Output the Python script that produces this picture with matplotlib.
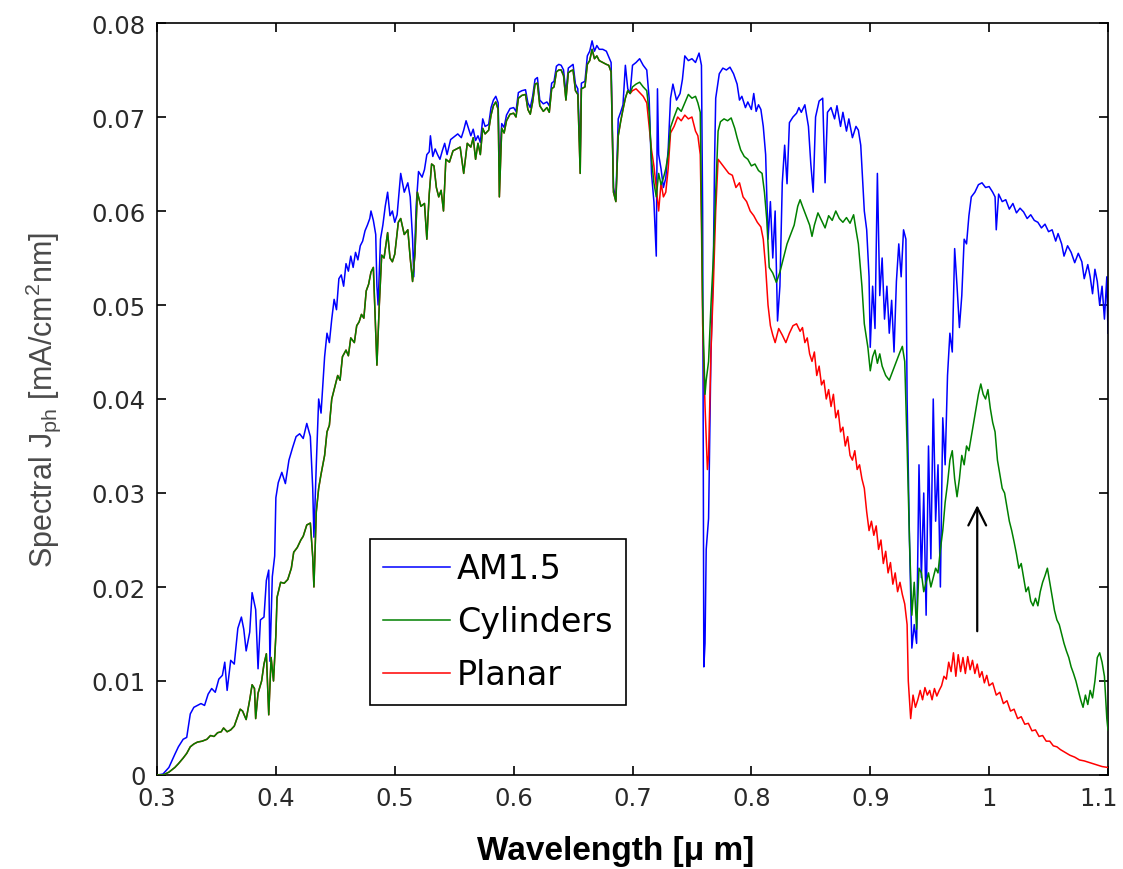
import matplotlib
matplotlib.use('Agg')
import matplotlib.pyplot as plt
import matplotlib.transforms as mtransforms
import numpy as np

# wavelength [um] and spectral Jph [1e-3 mA/cm^2 nm]

# AM1.5
am_wl = [0.300, 0.305, 0.310, 0.315, 0.318, 0.322, 0.325, 0.328, 0.331, 0.334, 0.337, 0.340,
         0.343, 0.346, 0.349, 0.352, 0.355, 0.357, 0.359, 0.362, 0.365, 0.368, 0.371, 0.373,
         0.375, 0.378, 0.380, 0.383, 0.385, 0.387, 0.390, 0.392, 0.394, 0.395, 0.397, 0.399,
         0.400, 0.402, 0.405, 0.408, 0.411, 0.414, 0.417, 0.420, 0.423, 0.426, 0.429, 0.431,
         0.432, 0.434, 0.436, 0.438, 0.441, 0.443, 0.445, 0.447, 0.449, 0.451, 0.453, 0.455,
         0.457, 0.459, 0.461, 0.463, 0.465, 0.467, 0.469, 0.471, 0.473, 0.475, 0.477, 0.479,
         0.480, 0.482, 0.484, 0.485, 0.486, 0.488, 0.490, 0.492, 0.494, 0.496, 0.498, 0.500,
         0.502, 0.505, 0.508, 0.511, 0.513, 0.515, 0.516, 0.518, 0.520, 0.523, 0.525, 0.527,
         0.529, 0.530, 0.532, 0.534, 0.536, 0.538, 0.540, 0.542, 0.544, 0.547, 0.550, 0.553,
         0.556, 0.558, 0.560, 0.562, 0.564, 0.566, 0.568, 0.570, 0.572, 0.574, 0.576, 0.579,
         0.581, 0.583, 0.585, 0.587, 0.588, 0.590, 0.592, 0.594, 0.597, 0.600, 0.602, 0.604,
         0.607, 0.610, 0.612, 0.614, 0.616, 0.618, 0.620, 0.622, 0.625, 0.628, 0.630, 0.632,
         0.634, 0.636, 0.638, 0.640, 0.642, 0.644, 0.646, 0.648, 0.650, 0.652, 0.654, 0.656,
         0.657, 0.660, 0.662, 0.664, 0.666, 0.668, 0.670, 0.672, 0.675, 0.678, 0.680, 0.682,
         0.684, 0.686, 0.688, 0.690, 0.692, 0.694, 0.696, 0.698, 0.700, 0.703, 0.706, 0.709,
         0.712, 0.714, 0.716, 0.718, 0.720, 0.721, 0.722, 0.724, 0.726, 0.728, 0.730, 0.732,
         0.734, 0.737, 0.740, 0.742, 0.744, 0.747, 0.750, 0.753, 0.756, 0.758, 0.759, 0.760,
         0.761, 0.762, 0.764, 0.766, 0.768, 0.769, 0.770, 0.773, 0.776, 0.779, 0.782, 0.785,
         0.788, 0.790, 0.792, 0.795, 0.797, 0.800, 0.802, 0.804, 0.806, 0.808, 0.810, 0.812,
         0.814, 0.816, 0.818, 0.820, 0.822, 0.824, 0.826, 0.828, 0.830, 0.832, 0.835, 0.838,
         0.840, 0.842, 0.845, 0.848, 0.850, 0.852, 0.854, 0.857, 0.860, 0.862, 0.864, 0.867,
         0.870, 0.872, 0.875, 0.877, 0.880, 0.882, 0.885, 0.888, 0.890, 0.892, 0.895, 0.897,
         0.899, 0.900, 0.902, 0.904, 0.906, 0.908, 0.910, 0.912, 0.914, 0.916, 0.918, 0.920,
         0.922, 0.924, 0.926, 0.928, 0.930, 0.931, 0.933, 0.935, 0.937, 0.939, 0.941, 0.943,
         0.945, 0.947, 0.949, 0.951, 0.953, 0.955, 0.957, 0.959, 0.961, 0.963, 0.965, 0.967,
         0.969, 0.971, 0.973, 0.975, 0.977, 0.979, 0.981, 0.983, 0.985, 0.988, 0.991, 0.994,
         0.997, 1.000, 1.003, 1.005, 1.006, 1.008, 1.011, 1.014, 1.017, 1.020, 1.023, 1.026,
         1.029, 1.032, 1.035, 1.038, 1.041, 1.044, 1.047, 1.050, 1.053, 1.056, 1.058, 1.061,
         1.063, 1.066, 1.069, 1.072, 1.075, 1.078, 1.080, 1.083, 1.085, 1.087, 1.089, 1.091,
         1.093, 1.095, 1.097, 1.099, 1.100]
am_j = [0, 0.1, 0.8, 2.2, 3.0, 3.8, 4.0, 6.5, 7.2, 7.4, 7.6, 7.4,
        8.6, 9.2, 8.8, 10.2, 10.6, 12.0, 9.0, 12.2, 11.8, 15.6, 16.8, 15.5,
        13.2, 15.2, 19.4, 17.6, 11.3, 16.5, 16.8, 20.7, 21.8, 12.1, 21.1, 23.3,
        29.5, 31.1, 32.2, 31.0, 33.5, 34.8, 36.0, 36.3, 35.8, 37.4, 36.0, 30.5,
        25.3, 33.0, 40.0, 38.5, 44.5, 47.0, 46.0, 48.5, 50.6, 49.5, 52.8, 53.2,
        52.0, 54.4, 53.6, 55.2, 54.0, 55.6, 54.8, 56.3, 56.8, 57.9, 58.5, 59.2,
        60.0, 59.0, 57.5, 52.0, 50.0, 57.0, 58.5, 60.5, 62.0, 59.5, 60.0, 58.8,
        59.6, 64.0, 62.0, 63.0, 61.5, 57.0, 53.0, 60.5, 64.2, 63.6, 64.4, 66.0,
        66.3, 68.0, 65.8, 66.6, 66.0, 65.5, 66.4, 67.2, 66.0, 67.6, 67.9, 68.2,
        67.8, 68.6, 69.6, 68.8, 68.0, 68.7, 67.5, 68.0, 67.3, 69.8, 69.0, 69.2,
        71.0, 71.8, 72.2, 71.5, 64.7, 69.3, 68.9, 70.2, 70.9, 71.0, 70.6, 72.6,
        72.8, 72.9, 71.5, 71.0, 72.2, 74.0, 74.2, 71.8, 71.4, 71.6, 71.2, 73.6,
        73.8, 75.4, 75.6, 75.5, 75.0, 72.5, 75.2, 75.4, 75.6, 73.5, 73.0, 66.0,
        73.6, 73.8, 76.5, 77.0, 78.1, 77.0, 77.6, 77.2, 77.2, 77.0, 76.4, 75.8,
        62.5, 61.2, 69.8, 70.5, 71.3, 75.5, 73.0, 72.5, 75.5, 75.8, 76.2, 75.5,
        75.0, 72.0, 64.0, 61.0, 55.2, 73.0, 66.0, 64.5, 62.5, 63.5, 66.5, 72.0,
        73.5, 71.8, 72.5, 74.0, 76.5, 76.0, 76.2, 75.8, 76.8, 75.5, 60.0, 11.5,
        14.0, 24.0, 27.3, 45.0, 54.0, 65.0, 72.0, 74.6, 75.2, 75.0, 75.3, 74.6,
        73.5, 71.8, 72.2, 71.0, 71.6, 70.8, 72.5, 70.6, 71.3, 70.8, 69.0, 66.0,
        57.0, 61.0, 55.0, 60.0, 48.3, 52.0, 63.0, 67.0, 62.9, 69.4, 70.0, 70.4,
        71.0, 70.5, 71.3, 69.0, 65.0, 62.0, 70.0, 71.7, 72.0, 63.0, 70.5, 71.0,
        69.8, 71.2, 69.0, 70.5, 68.5, 69.8, 67.8, 69.0, 68.6, 67.0, 60.0, 58.0,
        53.0, 45.5, 52.0, 47.5, 64.0, 51.0, 55.0, 48.5, 52.0, 47.0, 50.5, 45.0,
        52.5, 56.5, 53.0, 58.0, 57.0, 40.0, 25.0, 13.5, 16.0, 14.0, 33.0, 21.0,
        30.0, 17.0, 35.0, 23.0, 40.0, 27.0, 33.0, 20.0, 38.0, 33.0, 42.5, 47.0,
        45.0, 56.0, 52.0, 47.6, 51.0, 57.0, 56.5, 59.5, 61.5, 62.0, 62.8, 63.0,
        62.5, 62.6, 62.0, 61.5, 58.0, 61.8, 61.0, 61.2, 60.2, 60.8, 59.8, 60.3,
        59.9, 59.2, 59.6, 59.0, 58.8, 58.2, 58.6, 57.8, 58.0, 56.8, 57.6, 56.5,
        55.2, 56.3, 55.6, 54.5, 55.5, 54.6, 52.8, 54.3, 53.0, 51.2, 53.8, 52.5,
        50.0, 52.0, 48.5, 53.0, 47.0]

# Cylinders
cyl_wl = [0.300, 0.305, 0.310, 0.315, 0.318, 0.322, 0.325, 0.328, 0.331, 0.334, 0.338, 0.342,
          0.345, 0.348, 0.351, 0.354, 0.356, 0.359, 0.362, 0.365, 0.368, 0.370, 0.372, 0.375,
          0.378, 0.380, 0.382, 0.383, 0.385, 0.388, 0.390, 0.392, 0.394, 0.396, 0.398, 0.400,
          0.401, 0.404, 0.407, 0.410, 0.413, 0.415, 0.418, 0.421, 0.423, 0.426, 0.429, 0.431,
          0.432, 0.434, 0.436, 0.438, 0.441, 0.443, 0.445, 0.447, 0.450, 0.452, 0.454, 0.456,
          0.459, 0.461, 0.463, 0.466, 0.468, 0.470, 0.472, 0.474, 0.476, 0.478, 0.480, 0.482,
          0.484, 0.485, 0.487, 0.489, 0.491, 0.494, 0.496, 0.498, 0.500, 0.503, 0.505, 0.508,
          0.511, 0.513, 0.515, 0.517, 0.519, 0.522, 0.525, 0.527, 0.529, 0.531, 0.533, 0.535,
          0.537, 0.539, 0.541, 0.543, 0.546, 0.549, 0.552, 0.555, 0.558, 0.561, 0.564, 0.566,
          0.568, 0.570, 0.572, 0.574, 0.576, 0.579, 0.581, 0.583, 0.585, 0.587, 0.588, 0.590,
          0.592, 0.594, 0.597, 0.600, 0.602, 0.604, 0.607, 0.610, 0.612, 0.614, 0.616, 0.618,
          0.620, 0.622, 0.625, 0.628, 0.630, 0.632, 0.634, 0.636, 0.638, 0.640, 0.642, 0.644,
          0.646, 0.648, 0.650, 0.652, 0.654, 0.656, 0.657, 0.660, 0.662, 0.664, 0.666, 0.668,
          0.670, 0.672, 0.675, 0.678, 0.680, 0.682, 0.684, 0.686, 0.688, 0.690, 0.692, 0.694,
          0.696, 0.698, 0.700, 0.703, 0.706, 0.709, 0.712, 0.714, 0.716, 0.718, 0.720, 0.722,
          0.724, 0.726, 0.728, 0.730, 0.732, 0.735, 0.738, 0.741, 0.744, 0.747, 0.750, 0.753,
          0.755, 0.757, 0.758, 0.759, 0.760, 0.761, 0.762, 0.764, 0.766, 0.768, 0.770, 0.772,
          0.774, 0.777, 0.780, 0.783, 0.786, 0.788, 0.791, 0.794, 0.797, 0.800, 0.803, 0.806,
          0.809, 0.811, 0.813, 0.815, 0.818, 0.821, 0.824, 0.827, 0.830, 0.833, 0.836, 0.839,
          0.841, 0.843, 0.846, 0.849, 0.851, 0.853, 0.856, 0.859, 0.862, 0.865, 0.868, 0.871,
          0.874, 0.877, 0.880, 0.883, 0.886, 0.888, 0.890, 0.893, 0.895, 0.898, 0.900, 0.902,
          0.904, 0.906, 0.908, 0.910, 0.913, 0.916, 0.919, 0.922, 0.925, 0.927, 0.929, 0.931,
          0.933, 0.935, 0.937, 0.939, 0.941, 0.943, 0.945, 0.947, 0.949, 0.951, 0.953, 0.955,
          0.957, 0.959, 0.961, 0.963, 0.965, 0.967, 0.969, 0.971, 0.973, 0.975, 0.977, 0.979,
          0.981, 0.983, 0.985, 0.987, 0.989, 0.991, 0.993, 0.995, 0.997, 0.999, 1.001, 1.003,
          1.005, 1.007, 1.009, 1.011, 1.013, 1.015, 1.017, 1.019, 1.021, 1.023, 1.025, 1.027,
          1.029, 1.031, 1.033, 1.035, 1.037, 1.039, 1.041, 1.043, 1.045, 1.047, 1.049, 1.051,
          1.053, 1.055, 1.057, 1.059, 1.061, 1.063, 1.065, 1.067, 1.069, 1.071, 1.073, 1.075,
          1.077, 1.079, 1.081, 1.083, 1.085, 1.087, 1.089, 1.091, 1.093, 1.095, 1.097, 1.099,
          1.100]
cyl_j = [0, 0, 0.3, 0.8, 1.2, 1.8, 2.3, 3.0, 3.3, 3.5, 3.6, 3.8,
         4.2, 4.1, 4.5, 4.6, 5.0, 4.6, 4.8, 5.2, 6.3, 7.0, 6.8, 5.9,
         8.0, 9.6, 9.2, 6.0, 8.7, 10.0, 11.8, 12.9, 6.4, 12.5, 10.0, 14.9,
         18.9, 20.5, 20.4, 20.8, 22.0, 23.7, 24.2, 25.0, 25.4, 26.6, 26.8, 23.2,
         20.0, 28.0, 30.5, 32.0, 34.0, 36.5, 37.2, 40.0, 41.5, 42.5, 42.0, 44.5,
         45.2, 44.6, 46.5, 46.0, 47.8, 48.2, 49.0, 48.6, 51.5, 52.2, 53.5, 54.0,
         47.0, 43.6, 50.0, 55.3, 55.0, 57.7, 55.0, 54.6, 55.4, 58.8, 59.2, 57.5,
         58.0, 55.0, 52.5, 55.5, 62.0, 60.5, 60.8, 57.0, 61.8, 65.0, 64.8, 62.5,
         61.5, 62.2, 60.0, 65.5, 65.2, 66.4, 66.6, 66.8, 64.0, 67.2, 66.8, 67.8,
         65.5, 67.2, 66.0, 68.8, 68.2, 68.6, 70.2, 71.2, 71.6, 70.8, 61.5, 68.8,
         68.3, 69.6, 70.3, 70.4, 70.0, 72.0, 72.3, 72.4, 70.8, 70.3, 71.6, 73.5,
         73.6, 71.2, 70.6, 71.0, 70.5, 73.0, 73.2, 74.8, 75.0, 75.0, 74.4, 71.8,
         74.7, 74.9, 75.0, 72.8, 72.4, 64.0, 73.0, 73.2, 75.6, 76.0, 77.2, 76.2,
         76.5, 76.0, 75.8, 75.6, 75.5, 74.8, 62.0, 61.0, 68.0, 69.5, 70.8, 72.0,
         72.8, 72.5, 73.2, 73.5, 73.7, 73.2, 72.8, 70.5, 65.5, 63.0, 61.5, 64.0,
         62.8, 63.5, 64.5, 66.0, 68.9, 70.0, 71.0, 70.6, 71.5, 72.4, 72.0, 72.2,
         71.5, 70.5, 60.0, 50.0, 45.0, 40.5, 42.0, 44.0, 50.0, 55.0, 62.0, 68.5,
         69.5, 69.8, 69.6, 69.9, 68.8, 67.8, 66.5, 65.8, 65.5, 64.8, 65.0, 64.3,
         64.0, 62.0, 59.0, 54.0, 53.4, 52.4, 53.5, 55.0, 56.5, 57.5, 58.5, 60.5,
         61.2, 60.5, 59.5, 58.5, 57.3, 58.5, 59.8, 59.0, 58.2, 59.5, 59.0, 60.0,
         59.2, 58.8, 59.3, 58.7, 59.6, 58.0, 56.5, 52.0, 48.0, 45.5, 43.0, 44.5,
         45.2, 43.8, 44.8, 43.5, 42.5, 42.0, 43.0, 44.0, 45.0, 45.6, 44.0, 35.0,
         25.0, 17.0, 20.5, 15.5, 22.0, 21.5, 19.5, 20.5, 21.5, 20.0, 21.0, 22.0,
         21.5, 24.0, 26.0, 29.0, 31.0, 33.5, 34.5, 31.5, 29.6, 31.5, 34.0, 33.0,
         35.0, 34.5, 36.0, 37.5, 39.0, 40.5, 41.6, 40.5, 40.0, 41.0, 39.0, 37.5,
         36.5, 33.5, 32.0, 30.5, 30.0, 28.5, 27.0, 26.0, 24.8, 23.5, 22.0, 22.5,
         21.0, 19.5, 20.0, 18.5, 18.0, 18.8, 18.0, 19.5, 20.5, 21.2, 22.0, 20.5,
         19.0, 17.5, 16.5, 16.0, 15.0, 14.0, 13.2, 12.5, 11.5, 10.8, 10.0, 9.0,
         8.0, 7.2, 8.5, 7.5, 9.0, 8.2, 10.0, 12.5, 13.0, 12.0, 10.5, 6.0,
         4.8]

# Planar: identical to Cylinders below 0.7 um, own values above
planar_tail_wl = [0.700, 0.703, 0.706, 0.709, 0.712, 0.714, 0.716, 0.718, 0.720, 0.722, 0.724, 0.726,
                  0.728, 0.730, 0.732, 0.735, 0.738, 0.741, 0.744, 0.747, 0.750, 0.753, 0.755, 0.757,
                  0.758, 0.759, 0.761, 0.763, 0.764, 0.766, 0.768, 0.770, 0.772, 0.775, 0.778, 0.781,
                  0.784, 0.787, 0.790, 0.793, 0.796, 0.799, 0.802, 0.805, 0.808, 0.810, 0.812, 0.814,
                  0.816, 0.818, 0.820, 0.823, 0.826, 0.829, 0.832, 0.835, 0.838, 0.841, 0.843, 0.845,
                  0.847, 0.849, 0.851, 0.853, 0.855, 0.857, 0.859, 0.861, 0.863, 0.865, 0.867, 0.869,
                  0.871, 0.873, 0.875, 0.877, 0.879, 0.881, 0.883, 0.885, 0.887, 0.889, 0.891, 0.893,
                  0.895, 0.897, 0.899, 0.901, 0.903, 0.905, 0.907, 0.909, 0.911, 0.913, 0.915, 0.917,
                  0.919, 0.921, 0.923, 0.925, 0.927, 0.929, 0.931, 0.932, 0.934, 0.936, 0.938, 0.940,
                  0.942, 0.944, 0.946, 0.948, 0.950, 0.952, 0.954, 0.956, 0.958, 0.960, 0.962, 0.964,
                  0.966, 0.968, 0.970, 0.972, 0.974, 0.976, 0.978, 0.980, 0.982, 0.984, 0.986, 0.988,
                  0.990, 0.992, 0.994, 0.996, 0.998, 1.000, 1.003, 1.006, 1.009, 1.012, 1.015, 1.018,
                  1.021, 1.024, 1.027, 1.030, 1.033, 1.036, 1.039, 1.042, 1.045, 1.048, 1.051, 1.054,
                  1.057, 1.060, 1.064, 1.068, 1.072, 1.076, 1.080, 1.085, 1.090, 1.095, 1.100]
planar_tail_j = [72.8, 73.0, 72.6, 72.2, 71.5, 69.0, 66.5, 64.8, 62.5, 60.0, 63.0, 61.5,
                 62.0, 64.5, 68.3, 69.0, 70.0, 69.6, 70.2, 69.8, 70.0, 68.5, 68.0, 66.0,
                 58.7, 48.0, 39.3, 32.5, 34.0, 45.0, 52.0, 60.0, 65.5, 65.0, 64.5, 64.0,
                 63.8, 62.5, 63.0, 61.5, 61.0, 60.0, 59.5, 58.8, 58.3, 57.0, 54.0, 50.0,
                 47.8, 46.8, 46.0, 47.5, 46.8, 46.0, 47.0, 47.8, 48.0, 47.2, 47.6, 46.0,
                 46.5, 44.8, 44.0, 45.0, 42.5, 43.5, 41.5, 42.0, 40.0, 41.0, 39.2, 40.5,
                 38.0, 38.8, 36.5, 37.0, 35.0, 36.0, 34.0, 33.5, 34.5, 32.5, 33.0, 31.5,
                 30.5, 28.0, 26.0, 27.0, 25.5, 26.5, 24.0, 25.0, 22.5, 23.8, 21.5, 22.6,
                 20.3, 21.5, 19.5, 20.5, 19.2, 18.2, 16.0, 10.0, 6.0, 8.5, 7.2, 8.0,
                 9.0, 8.0, 9.3, 8.5, 9.0, 8.0, 9.2, 8.4, 9.0, 9.5, 10.5, 10.2,
                 12.0, 11.0, 13.0, 10.5, 12.8, 11.0, 12.5, 10.8, 12.6, 11.2, 12.2, 10.8,
                 11.8, 10.4, 11.0, 9.8, 10.6, 9.5, 9.8, 8.5, 8.8, 7.6, 7.9, 6.8,
                 7.0, 6.0, 6.2, 5.4, 5.5, 4.7, 4.8, 4.1, 4.2, 3.6, 3.6, 3.1,
                 3.0, 2.7, 2.4, 2.1, 1.9, 1.6, 1.5, 1.3, 1.1, 0.9, 0.8]

xtick_labels = ['0.3', '0.4', '0.5', '0.6', '0.7', '0.8', '0.9', '1', '1.1']
ytick_labels = ['0', '0.01', '0.02', '0.03', '0.04', '0.05', '0.06', '0.07', '0.08']

am_wl = np.array(am_wl)
am_j = np.array(am_j) * 1e-3
cyl_wl = np.array(cyl_wl)
cyl_j = np.array(cyl_j) * 1e-3
keep = cyl_wl < 0.7
planar_wl = np.concatenate([cyl_wl[keep], planar_tail_wl])
planar_j = np.concatenate([cyl_j[keep], np.array(planar_tail_j) * 1e-3])

plt.rcParams['mathtext.fontset'] = 'custom'
plt.rcParams['mathtext.rm'] = 'Liberation Sans'

fig = plt.figure(figsize=(11.23, 8.70), dpi=100)
ax = fig.add_axes([157 / 1123, 94 / 870, 951 / 1123, 752 / 870])

l_am, = ax.plot(am_wl, am_j, color='#0000ff', lw=1.1, zorder=2)
l_pl, = ax.plot(planar_wl, planar_j, color='#ff0000', lw=1.1, zorder=3)
l_cy, = ax.plot(cyl_wl, cyl_j, color='#008000', lw=1.1, zorder=4)

ax.set_xlim(0.3, 1.1)
ax.set_ylim(0, 0.08)
ax.set_xticks(np.linspace(0.3, 1.1, 9))
ax.set_xticklabels(xtick_labels)
ax.set_yticks(np.linspace(0, 0.08, 9))
ax.set_yticklabels(ytick_labels)
ax.tick_params(direction='in', top=True, right=True, length=6.5, width=1.2,
               labelsize=17.5, labelcolor='#2a2a2a', pad=8)
for s in ax.spines.values():
    s.set_linewidth(1.2)

# keep the last x label inside the figure
last = ax.get_xticklabels()[-1]
last.set_transform(last.get_transform() +
                   mtransforms.ScaledTranslation(-7 / 72, 0, fig.dpi_scale_trans))

ax.set_xlabel('Wavelength [μ m]', family='Liberation Sans', weight='bold', fontsize=24)
ax.xaxis.set_label_coords(0.482, -0.08)
ax.set_ylabel(r'Spectral J$_{\mathrm{ph}}$ [mA/cm$^{\mathrm{2}}$nm]', family='Liberation Sans',
              fontsize=22, color='#4a4a4a', va='center')
ax.yaxis.set_label_coords(-0.12, 0.5)

ax.annotate('', xy=(0.99, 0.029), xytext=(0.99, 0.015),
            arrowprops=dict(arrowstyle='->', lw=1.6, color='k', mutation_scale=32))

leg = ax.legend([l_am, l_cy, l_pl], ['AM1.5', 'Cylinders', 'Planar'],
                loc='upper left', bbox_to_anchor=(0.224, 0.3138), borderaxespad=0,
                fontsize=24, handlelength=2.0, handletextpad=0.2, labelspacing=0.6,
                borderpad=0.4, fancybox=False, framealpha=1, edgecolor='k')
leg.get_frame().set_linewidth(1.2)

fig.savefig('out.png', dpi=100)
